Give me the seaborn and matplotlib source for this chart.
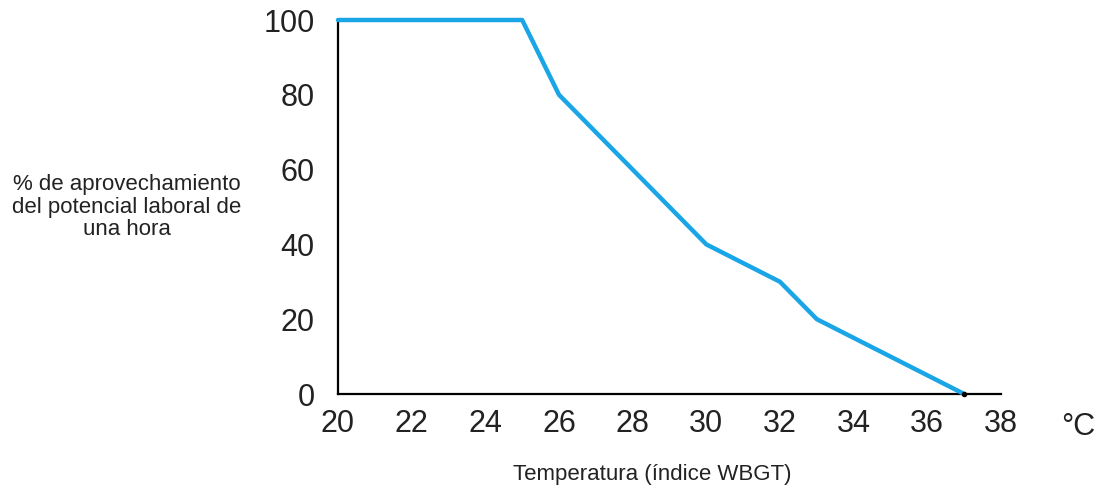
import numpy as np
import pandas as pd
import matplotlib.pyplot as plt
import seaborn as sns

# Datos del gráfico
temperatura = [20, 25, 26, 30, 32, 33, 37]
aprovechamiento = [100, 100, 80, 40, 30, 20, 0]
xticks = [20, 22, 24, 26, 28, 30, 32, 34, 36, 38]
yticks = [0, 20, 40, 60, 80, 100]

df = pd.DataFrame({"temp": temperatura, "pct": aprovechamiento})

sns.set_style("white")
plt.rcParams['font.family'] = ['Liberation Sans', 'DejaVu Sans']

fig = plt.figure(figsize=(10.97, 4.94), dpi=100)
ax = fig.add_axes([338 / 1097, 1 - 394 / 494, (1001 - 338) / 1097, (394 - 20) / 494])

sns.lineplot(data=df, x="temp", y="pct", ax=ax, color="#1aa6e6", linewidth=3.2,
             clip_on=False, zorder=3)
ax.plot([37], [0], marker="o", color="black", markersize=3, clip_on=False, zorder=4)

ax.set_xlim(20, 38)
ax.set_ylim(0, 100)
ax.set_xticks(xticks)
ax.set_yticks(yticks)
ax.tick_params(axis="both", length=0, labelsize=22, colors="#222222")
ax.tick_params(axis="x", pad=11)
ax.tick_params(axis="y", pad=17)
ax.set_xlabel("")
ax.set_ylabel("")

for s in ["top", "right"]:
    ax.spines[s].set_visible(False)
for s in ["left", "bottom"]:
    ax.spines[s].set_color("black")
    ax.spines[s].set_linewidth(1.6)

fig.text(127 / 1097, 1 - 207 / 494, "% de aprovechamiento\ndel potencial laboral de\nuna hora",
         ha="center", va="center", fontsize=16, color="#222222", linespacing=1.1)
fig.text(1078 / 1097, 1 - 427 / 494, "°C", ha="center", va="center", fontsize=22, color="#222222")
fig.text(652 / 1097, 1 - 474 / 494, "Temperatura (índice WBGT)", ha="center", va="center",
         fontsize=16, color="#222222")

fig.savefig("out.png", dpi=100, facecolor="white")
